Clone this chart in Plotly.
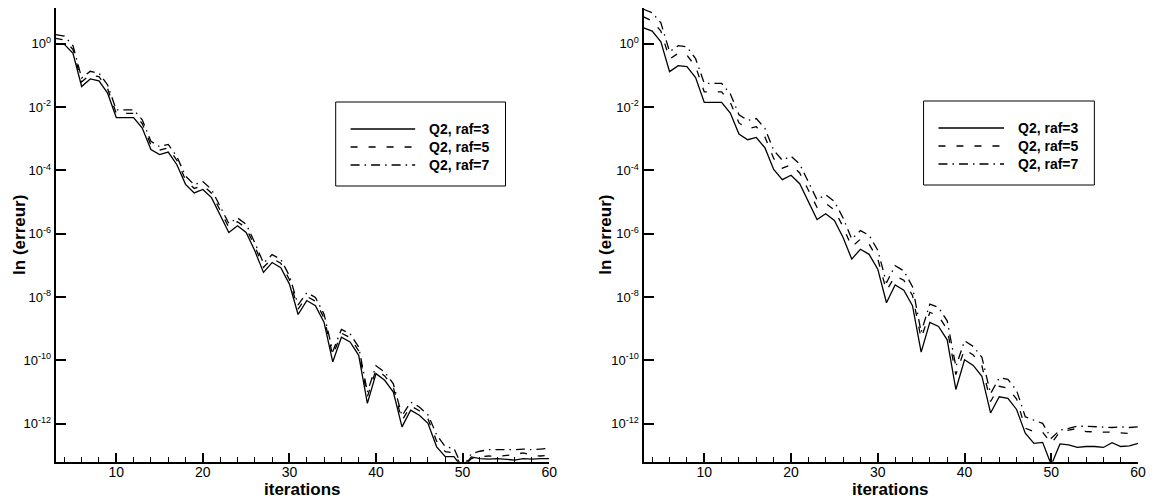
import plotly.graph_objects as go

# ---------------- data (log10 of the error) ----------------
iterations = list(range(3, 61))

left_raf3 = [0.0, -0.02, -0.30, -1.35, -1.11, -1.17, -1.56, -2.33, -2.33, -2.33,
             -2.66, -3.34, -3.50, -3.42, -3.82, -4.44, -4.71, -4.60, -4.86, -5.39,
             -5.96, -5.75, -5.96, -6.54, -7.22, -6.91, -7.07, -7.59, -8.55, -8.11,
             -8.27, -8.80, -10.05, -9.27, -9.42, -9.84, -11.36, -10.42, -10.63, -11.00,
             -12.10, -11.57, -11.73, -11.99, -12.73, -13.04, -13.04, -13.40, -13.05, -13.10,
             -13.12, -13.10, -13.12, -13.15, -13.10, -13.12, -13.10, -13.10]
left_raf5 = [0.17, 0.12, -0.18, -1.20, -0.98, -1.04, -1.42, -2.20, -2.20, -2.20,
             -2.52, -3.20, -3.36, -3.29, -3.68, -4.30, -4.57, -4.47, -4.72, -5.25,
             -5.80, -5.62, -5.82, -6.40, -7.06, -6.78, -6.93, -7.45, -8.38, -7.98,
             -8.13, -8.66, -9.85, -9.14, -9.28, -9.70, -11.15, -10.29, -10.49, -10.86,
             -11.90, -11.44, -11.59, -11.85, -12.55, -12.88, -12.92, -13.40, -13.10, -13.05,
             -13.02, -13.03, -13.00, -12.98, -12.92, -13.00, -13.02, -13.00]
left_raf7 = [0.29, 0.24, -0.06, -1.08, -0.87, -0.93, -1.30, -2.09, -2.09, -2.09,
             -2.40, -3.08, -3.25, -3.18, -3.56, -4.18, -4.45, -4.35, -4.60, -5.13,
             -5.68, -5.50, -5.70, -6.28, -6.93, -6.66, -6.81, -7.33, -8.25, -7.86,
             -8.01, -8.54, -9.72, -9.02, -9.16, -9.58, -11.00, -10.17, -10.37, -10.74,
             -11.75, -11.32, -11.47, -11.72, -12.35, -12.73, -12.78, -13.40, -12.95, -12.87,
             -12.82, -12.82, -12.83, -12.82, -12.80, -12.82, -12.80, -12.78]

right_raf3 = [0.50, 0.40, 0.06, -0.88, -0.69, -0.72, -1.07, -1.85, -1.85, -1.85,
              -2.19, -2.85, -3.03, -2.96, -3.29, -3.97, -4.29, -4.15, -4.42, -5.00,
              -5.55, -5.37, -5.58, -6.12, -6.80, -6.49, -6.65, -7.12, -8.18, -7.62,
              -7.78, -8.27, -9.74, -8.80, -8.93, -9.35, -10.92, -9.98, -10.16, -10.50,
              -11.66, -11.15, -11.20, -11.55, -12.30, -12.62, -12.59, -13.30, -12.64, -12.67,
              -12.75, -12.72, -12.72, -12.75, -12.60, -12.72, -12.70, -12.62]
right_raf5 = [0.85, 0.72, 0.40, -0.48, -0.30, -0.36, -0.72, -1.52, -1.52, -1.52,
              -1.85, -2.50, -2.68, -2.62, -2.95, -3.62, -3.93, -3.82, -4.08, -4.65,
              -5.17, -5.04, -5.25, -5.78, -6.42, -6.17, -6.33, -6.80, -7.80, -7.33,
              -7.47, -7.95, -9.31, -8.48, -8.60, -9.02, -10.45, -9.65, -9.83, -10.17,
              -11.30, -10.82, -10.88, -11.22, -12.14, -12.25, -12.27, -12.62, -12.25, -12.20,
              -12.15, -12.25, -12.25, -12.25, -12.27, -12.29, -12.31, -12.33]
right_raf7 = [1.09, 0.98, 0.66, -0.25, -0.06, -0.10, -0.47, -1.25, -1.25, -1.25,
              -1.58, -2.24, -2.42, -2.36, -2.68, -3.36, -3.68, -3.55, -3.80, -4.38,
              -4.93, -4.77, -4.98, -5.50, -6.17, -5.90, -6.05, -6.52, -7.55, -7.01,
              -7.17, -7.67, -9.11, -8.22, -8.33, -8.75, -10.20, -9.38, -9.56, -9.90,
              -11.05, -10.55, -10.60, -10.95, -11.78, -11.89, -11.99, -12.46, -12.20, -12.15,
              -12.08, -12.08, -12.10, -12.10, -12.12, -12.10, -12.12, -12.10]

series_labels = ["Q2, raf=3", "Q2, raf=5", "Q2, raf=7"]
x_tick_values = [10, 20, 30, 40, 50, 60]
y_tick_exponents = [0, -2, -4, -6, -8, -10, -12]
x_title = "iterations"
y_title = "ln (erreur)"

# ---------------- figure ----------------
# the page body has an 8px margin, so the figure is 8px smaller and
# page pixel positions are converted by removing that offset
OFF = 8
W, H = 1155 - OFF, 500 - OFF


def fx(p):
    return (p - OFF) / W


def fy(p):
    return 1 - (p - OFF) / H


dash_styles = ["solid", "7px,11px", "9px,5px,1.5px,5px"]
panels = [
    dict(series=[left_raf3, left_raf5, left_raf7], xa="x", ya="y",
         dom=(56, 553), ytitle_x=19, legend=(338, 509, 102, 186, 353, 418, 430)),
    dict(series=[right_raf3, right_raf5, right_raf7], xa="x2", ya="y2",
         dom=(648, 1146), ytitle_x=609, legend=(930, 1102, 101, 185, 945, 1011, 1023)),
]

fig = go.Figure()
for pnl in panels:
    for vals, dash, name in zip(pnl["series"], dash_styles, series_labels):
        fig.add_trace(go.Scatter(
            x=iterations, y=[10 ** v for v in vals], mode="lines", name=name,
            line=dict(color="black", width=1.3, dash=dash),
            xaxis=pnl["xa"], yaxis=pnl["ya"], showlegend=False,
        ))

y_top, y_bot = 6, 461.7
ydom = [fy(y_bot), min(1.0, fy(y_top))]
font_family = "Liberation Sans, Arial, sans-serif"
tick_font = dict(family=font_family, size=14, color="black")
ytick_font = dict(family=font_family, size=13, color="black")

common_x = dict(range=[3, 60], tickmode="array", tickvals=x_tick_values,
                showline=True, linecolor="black", linewidth=2, mirror=False,
                ticks="inside", ticklen=9, tickwidth=2, tickcolor="black",
                ticklabelstandoff=-4,
                showgrid=False, zeroline=False, tickfont=tick_font,
                minor=dict(tickmode="linear", tick0=0, dtick=2, ticks="inside", ticklen=5,
                           tickwidth=1, tickcolor="black", showgrid=False))
common_y = dict(type="log", range=[-13.2, 1.13], tickmode="array",
                tickvals=[10 ** e for e in y_tick_exponents],
                ticktext=["10<sup>%d</sup>" % e for e in y_tick_exponents],
                showline=True, linecolor="black", linewidth=2, mirror=False,
                ticks="inside", ticklen=10, tickwidth=2, tickcolor="black",
                showgrid=False, zeroline=False, tickfont=ytick_font, domain=ydom)

fig.update_layout(
    width=W, height=H, margin=dict(l=0, r=0, t=0, b=0),
    paper_bgcolor="white", plot_bgcolor="white", showlegend=False,
    xaxis=dict(domain=[fx(56), fx(553)], anchor="y", **common_x),
    yaxis=dict(anchor="x", **common_y),
    xaxis2=dict(domain=[fx(648), fx(1146)], anchor="y2", **common_x),
    yaxis2=dict(anchor="x2", **common_y),
)

title_font = dict(family=font_family, size=17, color="black")
legend_font = dict(family=font_family, size=14, color="black")

shapes = []
annotations = []
for pnl in panels:
    d0, d1 = pnl["dom"]
    annotations.append(dict(xref="paper", yref="paper", x=fx((d0 + d1) / 2), y=fy(489),
                            text="<b>%s</b>" % x_title, showarrow=False, font=title_font,
                            xanchor="center", yanchor="middle"))
    annotations.append(dict(xref="paper", yref="paper", x=fx(pnl["ytitle_x"]), y=fy(235),
                            text="<b>%s</b>" % y_title, showarrow=False, font=title_font,
                            textangle=-90, xanchor="center", yanchor="middle"))
    bx0, bx1, by0, by1, lx0, lx1, tx = pnl["legend"]
    shapes.append(dict(type="rect", xref="paper", yref="paper",
                       x0=fx(bx0), x1=fx(bx1), y0=fy(by1), y1=fy(by0),
                       line=dict(color="black", width=1), fillcolor="white", layer="above"))
    for k, (dash, name) in enumerate(zip(dash_styles, series_labels)):
        yy = by0 + 27 + 18 * k
        shapes.append(dict(type="line", xref="paper", yref="paper",
                           x0=fx(lx0), x1=fx(lx1), y0=fy(yy), y1=fy(yy),
                           line=dict(color="black", width=1.3, dash=dash), layer="above"))
        annotations.append(dict(xref="paper", yref="paper", x=fx(tx), y=fy(yy),
                                text="<b>%s</b>" % name, showarrow=False, font=legend_font,
                                xanchor="left", yanchor="middle"))

fig.update_layout(shapes=shapes, annotations=annotations)
fig.write_html("out.html")
